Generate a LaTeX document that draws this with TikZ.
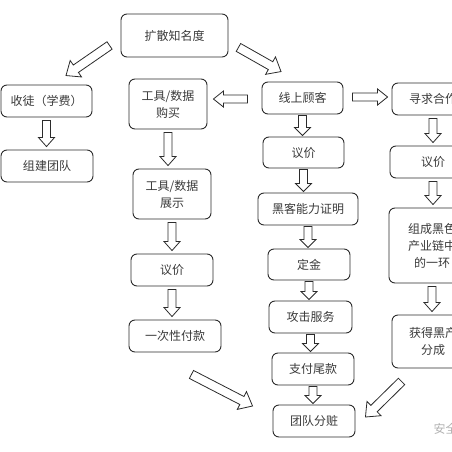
\documentclass[tikz,border=0pt]{standalone}
\usepackage{fontspec}
\setmainfont{Noto Sans CJK SC}
\usetikzlibrary{calc}
\definecolor{boxline}{HTML}{2B2B2B}
\definecolor{boxtext}{HTML}{3A3A3A}
\tikzset{
    arrshaft/.store in=\arrshaftv, arrhead/.store in=\arrheadv,
    arrlen/.store in=\arrlenv, arrgap/.store in=\arrgapv,
    arrshaft=4pt, arrhead=8pt, arrlen=9pt, arrgap=3pt
}

\begin{document}
\begin{tikzpicture}[
    x=1pt, y=-1pt,
    box/.style={draw=boxline, rounded corners=6pt, line width=0.9pt, align=center,
        inner sep=0pt, text=boxtext, font=\fontsize{12}{17}\selectfont},
    hollow/.style={draw=boxline, fill=white, line width=0.8pt, line join=miter,
        to path={coordinate (ha) (\tikztotarget) coordinate (hb)
            ($(ha)!\arrgapv!(hb)$) coordinate (hs)
            ($(hb)!\arrgapv!(ha)$) coordinate (ht)
            ($(ht)!\arrlenv!(hs)$) coordinate (hh)
            ($(hs)!\arrshaftv!90:(ht)$) -- ($(hh)!\arrshaftv!90:(ht)$)
            -- ($(hh)!\arrheadv!90:(ht)$) -- (ht) -- ($(hh)!\arrheadv!-90:(ht)$)
            -- ($(hh)!\arrshaftv!-90:(ht)$) -- ($(hs)!\arrshaftv!-90:(ht)$) -- cycle}},
    tight/.style={hollow, arrgap=1pt, arrlen=8pt},
    slant/.style={hollow, arrgap=0pt, arrshaft=4.5pt, arrhead=10pt, arrlen=12pt},
    side/.style={hollow, arrgap=0pt, arrshaft=4pt, arrhead=8pt, arrlen=10pt}
    ]
    \useasboundingbox (0,0) rectangle (452,452);
    \clip (0,0) rectangle (452,452);

    % top
    \node[box, minimum width=107pt, minimum height=43pt] (spread) at (174.5,35.5) {扩散知名度};
    % left column
    \node[box, minimum width=91pt, minimum height=32pt] (disciple) at (46.5,101) {收徒（学费）};
    \node[box, minimum width=92pt, minimum height=32pt] (team) at (47,166) {组建团队};
    % tools column
    \node[box, minimum width=78pt, minimum height=50pt] (buy) at (168,104) {工具/数据\\购买};
    \node[box, minimum width=78pt, minimum height=50pt] (show) at (172,194) {工具/数据\\展示};
    \node[box, minimum width=82pt, minimum height=32pt] (lprice) at (172,270) {议价};
    \node[box, minimum width=92pt, minimum height=32pt] (once) at (175,336) {一次性付款};
    % online column
    \node[box, minimum width=81pt, minimum height=32pt] (online) at (302.5,98) {线上顾客};
    \node[box, minimum width=81pt, minimum height=31pt] (mprice) at (303.5,152.5) {议价};
    \node[box, minimum width=100pt, minimum height=32pt] (proof) at (308,209) {黑客能力证明};
    \node[box, minimum width=82pt, minimum height=31pt] (deposit) at (309,264.5) {定金};
    \node[box, minimum width=83pt, minimum height=32pt] (attack) at (310.5,317) {攻击服务};
    \node[box, minimum width=82pt, minimum height=32pt] (final) at (313,369) {支付尾款};
    \node[box, minimum width=82pt, minimum height=32pt] (split) at (314,421) {团队分赃};
    % partner column
    \node[box, minimum width=82pt, minimum height=32pt] (seek) at (433,99) {寻求合作};
    \node[box, minimum width=86pt, minimum height=32pt] (rprice) at (433,162) {议价};
    \node[box, minimum width=86pt, minimum height=75pt] (chain) at (432,245.5) {组成黑色\\产业链中\\的一环};
    \node[box, minimum width=82pt, minimum height=53pt] (gain) at (433,341.5) {获得黑产\\分成};
    % watermark
    \node[anchor=west, text=black!30, font=\fontsize{12}{14}\selectfont] (mark) at (430,429) {安全};

    % slanted arrows
    \draw[slant] ($(spread.south west)+(-11,-12)$) to ($(disciple.north)+(19.5,-9)$);
    \draw[slant] ($(spread.south east)+(10,-10)$) to ($(online.north)+(-21.5,-10)$);
    \draw[slant] ($(once.south east)+(-30,22)$) to ($(split.west)+(-20,-15)$);
    \draw[slant] ($(gain.south west)+(10,13)$) to ($(split.east)+(10,-4)$);
    % side arrows
    \draw[side] ($(online.west)+(-14,1)$) to ($(buy.east)+(6,-5)$);
    \draw[side] ($(online.east)+(9,-1)$) to ($(seek.west)+(-4,-2)$);
    % down arrows
    \draw[hollow] (disciple.south) to (disciple.south |- team.north);
    \draw[hollow] (buy.south) to (buy.south |- show.north);
    \draw[hollow] (show.south) to (show.south |- lprice.north);
    \draw[hollow] (lprice.south) to (lprice.south |- once.north);
    \draw[tight] (online.south) to (online.south |- mprice.north);
    \draw[tight] (mprice.south) to (mprice.south |- proof.north);
    \draw[tight] (proof.south) to (proof.south |- deposit.north);
    \draw[tight] (deposit.south) to (deposit.south |- attack.north);
    \draw[tight] (attack.south) to (attack.south |- final.north);
    \draw[tight] (final.south) to (final.south |- split.north);
    \draw[hollow] (seek.south) to (seek.south |- rprice.north);
    \draw[hollow] (rprice.south) to (rprice.south |- chain.north);
    \draw[hollow] (chain.south) to (chain.south |- gain.north);
\end{tikzpicture}
\end{document}
